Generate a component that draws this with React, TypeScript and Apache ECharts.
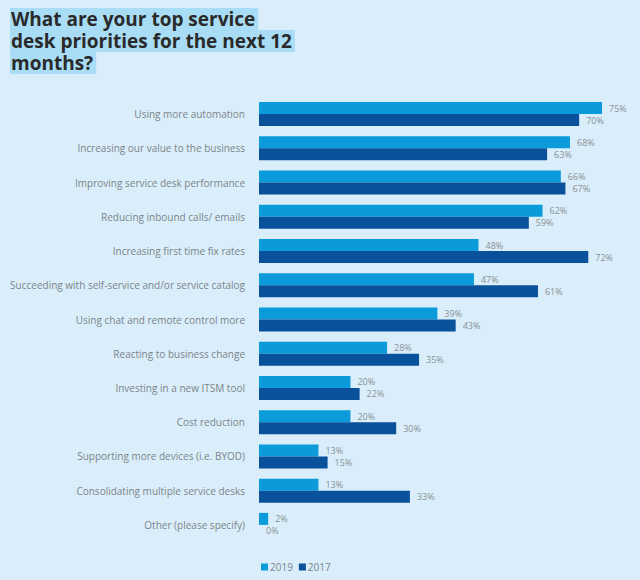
import React, { useEffect, useRef } from "react";
import * as echarts from "echarts";

const categories = [
  "Using more automation",
  "Increasing our value to the business",
  "Improving service desk performance",
  "Reducing inbound calls/ emails",
  "Increasing first time fix rates",
  "Succeeding with self-service and/or service catalog",
  "Using chat and remote control more",
  "Reacting to business change",
  "Investing in a new ITSM tool",
  "Cost reduction",
  "Supporting more devices (i.e. BYOD)",
  "Consolidating multiple service desks",
  "Other (please specify)",
];
const values2019 = [75, 68, 66, 62, 48, 47, 39, 28, 20, 20, 13, 13, 2];
const values2017 = [70, 63, 67, 59, 72, 61, 43, 35, 22, 30, 15, 33, 0];
const seriesNames = ["2019", "2017"];
const titleLines = ["What are your top service", "desk priorities for the next 12", "months?"];

const FONT = "'Open Sans', 'Noto Sans', sans-serif";

export default function App() {
  const ref = useRef<HTMLDivElement>(null);
  useEffect(() => {
    if (!ref.current) return;
    const chart = echarts.init(ref.current, null, { renderer: "svg" });
    const label = {
      show: true,
      position: "right" as const,
      distance: 7,
      formatter: "{c}%",
      color: "#8a8f94",
      fontSize: 9,
      fontFamily: FONT,
    };
    chart.setOption({
      animation: false,
      backgroundColor: "#d9eefa",
      title: titleLines.map((l, i) => ({
        text: l,
        left: 10,
        top: 8 + i * 22,
        padding: [0, 3, 0, 1],
        backgroundColor: "#a9ddf6",
        textStyle: {
          fontSize: 19,
          fontWeight: "bold",
          fontFamily: FONT,
          color: "#2a2a2a",
          lineHeight: 22,
        },
      })),
      legend: {
        bottom: 3,
        left: 256,
        itemWidth: 7,
        itemHeight: 7,
        itemGap: 6,
        icon: "rect",
        textStyle: { color: "#7d8489", fontSize: 10, fontFamily: FONT, padding: [0, 0, 0, -3] },
        data: seriesNames,
      },
      grid: { left: 259, top: 97, width: 343, height: 445 },
      xAxis: {
        type: "value",
        min: 0,
        max: 75,
        show: false,
      },
      yAxis: {
        type: "category",
        inverse: true,
        data: categories,
        axisLine: { show: false },
        axisTick: { show: false },
        axisLabel: { color: "#7d8489", fontSize: 10, fontFamily: FONT, margin: 14 },
      },
      series: [
        {
          name: seriesNames[0],
          type: "bar",
          data: values2019,
          barWidth: 12,
          barGap: "0%",
          itemStyle: { color: "#0b9bdb" },
          label,
        },
        {
          name: seriesNames[1],
          type: "bar",
          data: values2017,
          barWidth: 12,
          barGap: "0%",
          itemStyle: { color: "#0a519b" },
          label,
        },
      ],
    });
    return () => chart.dispose();
  }, []);
  return <div ref={ref} style={{ width: 640, height: 580, position: "absolute", left: 0, top: 0 }} />;
}
